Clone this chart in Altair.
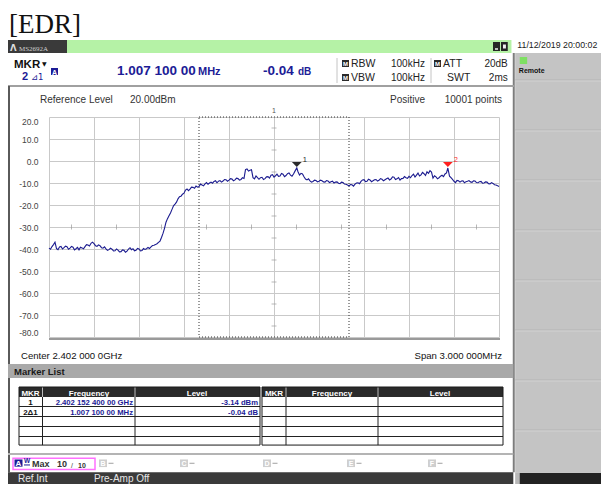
import altair as alt
import pandas as pd

SANS = "Liberation Sans"
SERIF = "Liberation Serif"

# ---------------- chart values ----------------
TRACE_MHZ = [
    -1.50, -1.49, -1.48, -1.47, -1.46, -1.45, -1.44, -1.43, -1.42, -1.41,
    -1.40, -1.39, -1.38, -1.37, -1.36, -1.35, -1.34, -1.33, -1.32, -1.31,
    -1.30, -1.29, -1.28, -1.27, -1.26, -1.25, -1.24, -1.23, -1.22, -1.21,
    -1.20, -1.19, -1.18, -1.17, -1.16, -1.15, -1.14, -1.13, -1.12, -1.11,
    -1.10, -1.09, -1.08, -1.07, -1.06, -1.05, -1.04, -1.03, -1.02, -1.01,
    -1.00, -0.99, -0.98, -0.97, -0.96, -0.95, -0.94, -0.93, -0.92, -0.91,
    -0.90, -0.89, -0.88, -0.87, -0.86, -0.85, -0.84, -0.83, -0.82, -0.81,
    -0.80, -0.79, -0.78, -0.77, -0.76, -0.75, -0.74, -0.73, -0.72, -0.71,
    -0.70, -0.69, -0.68, -0.67, -0.66, -0.65, -0.64, -0.63, -0.62, -0.61,
    -0.60, -0.59, -0.58, -0.57, -0.56, -0.55, -0.54, -0.53, -0.52, -0.51,
    -0.50, -0.49, -0.48, -0.47, -0.46, -0.45, -0.44, -0.43, -0.42, -0.41,
    -0.40, -0.39, -0.38, -0.37, -0.36, -0.35, -0.34, -0.33, -0.32, -0.31,
    -0.30, -0.29, -0.28, -0.27, -0.26, -0.25, -0.24, -0.23, -0.22, -0.21,
    -0.20, -0.19, -0.18, -0.17, -0.16, -0.15, -0.14, -0.13, -0.12, -0.11,
    -0.10, -0.09, -0.08, -0.07, -0.06, -0.05, -0.04, -0.03, -0.02, -0.01,
    0.00, 0.01, 0.02, 0.03, 0.04, 0.05, 0.06, 0.07, 0.08, 0.09,
    0.10, 0.11, 0.12, 0.13, 0.14, 0.152, 0.16, 0.17, 0.18, 0.19,
    0.20, 0.21, 0.22, 0.23, 0.24, 0.25, 0.26, 0.27, 0.28, 0.29,
    0.30, 0.31, 0.32, 0.33, 0.34, 0.35, 0.36, 0.37, 0.38, 0.39,
    0.40, 0.41, 0.42, 0.43, 0.44, 0.45, 0.46, 0.47, 0.48, 0.49,
    0.50, 0.51, 0.52, 0.53, 0.54, 0.55, 0.56, 0.57, 0.58, 0.59,
    0.60, 0.61, 0.62, 0.63, 0.64, 0.65, 0.66, 0.67, 0.68, 0.69,
    0.70, 0.71, 0.72, 0.73, 0.74, 0.75, 0.76, 0.77, 0.78, 0.79,
    0.80, 0.81, 0.82, 0.83, 0.84, 0.85, 0.86, 0.87, 0.88, 0.89,
    0.90, 0.91, 0.92, 0.93, 0.94, 0.95, 0.96, 0.97, 0.98, 0.99,
    1.00, 1.01, 1.02, 1.03, 1.04, 1.05, 1.06, 1.07, 1.08, 1.09,
    1.10, 1.11, 1.12, 1.13, 1.14, 1.15, 1.159, 1.17, 1.18, 1.19,
    1.20, 1.21, 1.22, 1.23, 1.24, 1.25, 1.26, 1.27, 1.28, 1.29,
    1.30, 1.31, 1.32, 1.33, 1.34, 1.35, 1.36, 1.37, 1.38, 1.39,
    1.40, 1.41, 1.42, 1.43, 1.44, 1.45, 1.46, 1.47, 1.48, 1.49,
    1.50,
]
TRACE_DBM = [
    -39.6, -40.1, -38.9, -38.0, -36.9, -39.8, -40.3, -39.1, -38.8, -40.0,
    -39.4, -38.7, -39.0, -40.1, -39.6, -38.8, -39.2, -40.4, -39.9, -39.3,
    -40.4, -39.2, -39.5, -39.9, -38.9, -38.0, -38.2, -38.6, -37.4, -36.9,
    -37.6, -38.5, -38.8, -38.1, -38.5, -39.4, -39.6, -39.0, -39.9, -40.6,
    -40.3, -39.6, -40.1, -40.9, -40.8, -40.0, -40.5, -41.3, -41.2, -40.4,
    -40.6, -41.5, -41.0, -40.0, -39.4, -40.3, -39.9, -40.8, -40.6, -39.7,
    -40.0, -40.9, -40.7, -39.8, -40.2, -39.9, -39.3, -39.8, -39.0, -38.4,
    -38.3, -38.0, -37.6, -37.0, -36.4, -34.8, -32.9, -30.6, -27.8, -26.2,
    -24.9, -23.6, -22.0, -20.4, -19.6, -18.7, -17.2, -16.2, -16.0, -15.1,
    -14.6, -13.2, -12.7, -13.5, -12.8, -11.9, -12.0, -12.4, -11.4, -11.9,
    -11.6, -10.5, -10.9, -11.3, -10.4, -9.8, -10.6, -10.0, -9.6, -10.1,
    -9.3, -9.0, -9.9, -9.2, -8.9, -9.6, -9.1, -8.4, -8.5, -9.2,
    -8.7, -8.0, -8.2, -9.0, -8.6, -7.8, -8.0, -8.7, -8.4, -7.6,
    -7.9, -3.9, -3.6, -4.6, -4.2, -4.0, -7.6, -8.1, -6.8, -7.6,
    -8.3, -7.6, -7.4, -8.4, -8.0, -7.2, -7.1, -7.8, -6.5, -6.2,
    -7.3, -6.7, -6.0, -7.0, -6.8, -5.7, -6.0, -7.1, -6.6, -5.8,
    -5.4, -6.4, -6.9, -5.9, -4.6, -3.14, -4.9, -6.4, -5.6, -5.9,
    -7.2, -8.2, -8.6, -8.1, -9.0, -9.6, -9.3, -8.7, -8.9, -9.5,
    -9.2, -8.7, -9.0, -9.5, -9.6, -8.9, -9.1, -9.8, -9.4, -9.2,
    -10.0, -9.6, -9.5, -10.1, -10.3, -9.6, -9.8, -10.5, -10.6, -10.9,
    -11.3, -10.7, -10.8, -11.4, -10.5, -10.0, -9.9, -10.3, -9.3, -8.6,
    -8.5, -9.4, -9.2, -8.3, -8.6, -9.4, -9.0, -8.5, -8.4, -9.1,
    -8.8, -8.0, -8.3, -9.0, -8.5, -8.1, -7.7, -8.6, -8.2, -7.2,
    -7.4, -8.4, -8.1, -7.5, -8.7, -8.0, -7.9, -7.1, -7.6, -7.9,
    -7.0, -7.6, -6.6, -6.0, -7.3, -6.4, -5.5, -6.8, -6.3, -5.2,
    -5.8, -6.6, -4.9, -5.6, -4.4, -5.0, -7.8, -6.7, -7.2, -8.1,
    -7.6, -6.9, -6.5, -7.1, -5.9, -5.4, -3.18, -6.9, -7.6, -8.4,
    -9.2, -9.8, -8.8, -9.0, -9.6, -9.1, -9.0, -9.9, -9.4, -9.2,
    -8.9, -9.5, -9.7, -9.0, -9.1, -9.8, -9.9, -9.4, -9.3, -10.1,
    -10.0, -9.5, -9.6, -10.3, -10.4, -9.8, -10.2, -10.8, -10.9, -11.2,
    -11.6,
]
MARKER_LABEL = ["1", "2"]
MARKER_MHZ = [0.152, 1.159]
MARKER_DBM = [-3.14, -3.18]
MARKER_COLOR = ["#2a2a2a", "#ff1f1f"]

GRID_MHZ = [-1.5, -1.2, -0.9, -0.6, -0.3, 0.0, 0.3, 0.6, 0.9, 1.2, 1.5]
GRID_DBM = [20, 10, 0, -10, -20, -30, -40, -50, -60, -70, -80]
ZONE_MHZ = [-0.5, 0.5]
SCALE_TICK_MHZ = [-1.35, -1.05, -0.75, -0.45, -0.15, 0.15, 0.45, 0.75, 1.05, 1.35]
SCALE_TICK_DBM = [15, 5, -5, -15, -25, -35, -45, -55, -65, -75]
CROSS_DBM = -30
CENTER_MHZ = 0.0

# ---------------- scales / axes ----------------
xscale = alt.Scale(domain=[GRID_MHZ[0], GRID_MHZ[-1]], nice=False, zero=False)
yscale = alt.Scale(domain=[GRID_DBM[-1], GRID_DBM[0]], nice=False, zero=False)
xaxis = alt.Axis(values=GRID_MHZ, grid=True, labels=False, ticks=False, domain=False,
                 title=None, gridColor="#c9c9c9", gridWidth=1)
yaxis = alt.Axis(values=GRID_DBM, grid=True, ticks=False, domain=False, title=None,
                 gridColor="#c9c9c9", gridWidth=1, labelFlush=True,
                 labelExpr="replace(format(datum.value, '.1f'), '\u2212', '-')",
                 labelFont=SANS, labelFontSize=8.5, labelColor="#444444", labelPadding=11)


def X(field, **kw):
    return alt.X(f"{field}:Q", scale=xscale, axis=xaxis, **kw)


def Y(field, **kw):
    return alt.Y(f"{field}:Q", scale=yscale, axis=yaxis, **kw)


trace_df = pd.DataFrame({"mhz": TRACE_MHZ, "dbm": TRACE_DBM})
marker_df = pd.DataFrame({"mhz": MARKER_MHZ, "dbm": MARKER_DBM,
                          "lab": MARKER_LABEL, "col": MARKER_COLOR})
zone_df = pd.DataFrame({"x1": [ZONE_MHZ[0]], "x2": [ZONE_MHZ[1]],
                        "y1": [GRID_DBM[0]], "y2": [GRID_DBM[-1]]})
htick_df = pd.DataFrame({"mhz": SCALE_TICK_MHZ, "dbm": [CROSS_DBM] * len(SCALE_TICK_MHZ)})
vtick_df = pd.DataFrame({"mhz": [CENTER_MHZ] * len(SCALE_TICK_DBM), "dbm": SCALE_TICK_DBM})
top_df = pd.DataFrame({"mhz": [CENTER_MHZ], "dbm": [GRID_DBM[0]], "lab": ["1"]})

# ---------------- decoration helpers (screen layout) ----------------
ONE = pd.DataFrame({"k": [0]})
OX, OY = 49, 117   # page position of the plot's top-left corner


def fx(x):
    # squeeze the right-hand side panel a little so it fits inside the page
    return x if x <= 505 else 505 + (x - 505) * 96 / 104


def fy(y):
    # squeeze the bottom status rows a little so they fit inside the page
    return y if y <= 440 else 440 + (y - 440) * 44 / 52


def T(sx, sy, s, size=10, color="#1a1a1a", weight="normal", align="left", font=SANS, **kw):
    return alt.Chart(ONE).mark_text(text=s, fontSize=size, color=color, fontWeight=weight,
                                    align=align, baseline="alphabetic", font=font, **kw
                                    ).encode(x=alt.value(fx(sx) - OX), y=alt.value(fy(sy) - OY))


def R(x1, y1, x2, y2, fill=None, stroke=None, sw=1):
    kw = {}
    if fill is not None:
        kw["fill"] = fill
    else:
        kw["fillOpacity"] = 0
    if stroke is not None:
        kw["stroke"] = stroke
        kw["strokeWidth"] = sw
    return alt.Chart(ONE).mark_rect(**kw).encode(
        x=alt.value(fx(x1) - OX), x2=alt.value(fx(x2) - OX),
        y=alt.value(fy(y1) - OY), y2=alt.value(fy(y2) - OY))


def L(x1, y1, x2, y2, color="#888888", sw=1):
    return alt.Chart(ONE).mark_rule(color=color, strokeWidth=sw).encode(
        x=alt.value(fx(x1) - OX), x2=alt.value(fx(x2) - OX),
        y=alt.value(fy(y1) - OY), y2=alt.value(fy(y2) - OY))


BLUE = "#1c1c96"
layers = []

# title bar
layers += [R(0, 40, 67, 53, fill="#3a3a3a"), R(67, 40, 512, 53, fill="#b5f2a6"),
           R(493, 42, 500, 51, fill="#262626"), L(495, 49, 498, 49, "#f0f0f0", 1.5),
           R(501, 42, 508, 51, fill="#262626"), R(503, 44.5, 506, 48.5, fill="#f0f0f0")]
# right panel
layers += [R(516, 53, 609, 478, fill="#c4c4c4")]
for by in [80, 130, 180, 230, 280, 330, 380, 430]:
    layers += [L(516, by, 609, by, "#b4b4b4", 1), L(516, by + 1, 609, by + 1, "#d2d2d2", 1)]
layers += [R(516, 478, 609, 492, fill="#b8b8b8"), R(521, 479, 609, 492, fill="#222222"),
           R(521, 57, 529, 64, fill="#7fe063"), L(514.5, 53, 514.5, 478, "#7d7d7d", 2)]
# frames / bars
layers += [L(0, 86, 515, 86, "#a0a0a0", 2), L(9, 86, 9, 478, "#5a5a5a", 2),
           R(8, 364, 514, 378, fill="#a9a9a9"), L(8, 456.5, 514, 456.5, "#b4b4b4", 2),
           R(8, 478, 514, 492, fill="#3a3a3a"),
           L(337, 58, 337, 83, "#c4c4c4", 1), L(431, 58, 431, 83, "#c4c4c4", 1),
           L(49, 339, 500, 339, "#9a9a9a", 2)]
# marker tables
for (tx1, c1, c2, tx2) in [(19, 42.5, 135, 260), (262, 286, 378, 503)]:
    layers += [R(tx1, 387, tx2, 397, fill="#2a2a2a")]
    for ry in [406.5, 416.5, 426.5, 436.5]:
        layers += [L(tx1, ry, tx2, ry, "#222222", 1)]
    layers += [L(c1, 397, c1, 446, "#222222", 1), L(c2, 397, c2, 446, "#222222", 1),
               L(c1, 387, c1, 397, "#bbbbbb", 1), L(c2, 387, c2, 397, "#bbbbbb", 1),
               R(tx1, 387, tx2, 446, stroke="#1a1a1a", sw=1)]

# ---------------- data layers ----------------
zone = alt.Chart(zone_df).mark_rect(fillOpacity=0, stroke="#333333", strokeWidth=1,
                                    strokeDash=[1, 2]).encode(
    x=X("x1"), x2="x2", y=Y("y1"), y2="y2")
hticks = alt.Chart(htick_df).mark_tick(orient="vertical", size=5, thickness=1,
                                       color="#9a9a9a").encode(x=X("mhz"), y=Y("dbm"))
vticks = alt.Chart(vtick_df).mark_tick(orient="horizontal", size=5, thickness=1,
                                       color="#9a9a9a").encode(x=X("mhz"), y=Y("dbm"))
toplab = alt.Chart(top_df).mark_text(fontSize=7, color="#555555", dy=-4, font=SANS,
                                     baseline="alphabetic").encode(
    x=X("mhz"), y=Y("dbm"), text="lab:N")
trace = alt.Chart(trace_df).mark_line(color="#1b1b8f", strokeWidth=1.1).encode(
    x=X("mhz"), y=Y("dbm"))
marks = alt.Chart(marker_df).mark_point(shape="M-1,-1L1,-1L0,0Z", size=95, filled=True,
                                        opacity=1).encode(
    x=X("mhz"), y=Y("dbm"), color=alt.Color("col:N", scale=None), yOffset=alt.value(-1))
marklab = alt.Chart(marker_df).mark_text(fontSize=7.5, dx=8, dy=-8, font=SANS).encode(
    x=X("mhz"), y=Y("dbm"), text="lab:N", color=alt.Color("col:N", scale=None))
layers += [zone, hticks, vticks, toplab, trace, marks, marklab]

# ---------------- texts ----------------
layers += [
    T(9, 33, "[EDR]", size=27, color="#111111", font=SERIF),
    T(10, 50.5, "Λ", size=8.5, color="#dddddd", weight="bold", font="DejaVu Sans"),
    T(19, 50.5, "MS2692A", size=7, color="#cfcfcf", font=SERIF),
    T(605, 48, "11/12/2019 20:00:02", size=8.8, color="#222222", align="right"),
    T(14, 68, "MKR", size=11.5, weight="bold", color="#111111"),
    T(42, 66, "▼", size=6, color="#111111", font="DejaVu Sans"),
    T(22, 79.5, "2", size=11, weight="bold", color=BLUE),
    T(31, 79.5, "⊿1", size=8.5, color=BLUE, font="DejaVu Sans"),
    R(51, 68, 58, 75, fill=BLUE),
    T(54.5, 74.5, "A", size=7, weight="bold", color="#ffffff", align="center"),
    T(117, 75, "1.007 100 00", size=13.5, weight="bold", color=BLUE),
    T(198, 75, "MHz", size=11, weight="bold", color=BLUE),
    T(263, 75, "-0.04", size=13.5, weight="bold", color=BLUE),
    T(298, 75, "dB", size=10, weight="bold", color=BLUE),
    R(342, 60, 349, 67, fill="#2a2a2a"), R(342, 74, 349, 81, fill="#2a2a2a"),
    R(434, 60, 441, 67, fill="#2a2a2a"),
    T(345.5, 66, "M", size=6, color="#ffffff", weight="bold", align="center"),
    T(345.5, 80, "M", size=6, color="#ffffff", weight="bold", align="center"),
    T(437.5, 66, "M", size=6, color="#ffffff", weight="bold", align="center"),
    T(351, 67, "RBW", size=10.5, color="#222222"),
    T(351, 81, "VBW", size=10.5, color="#222222"),
    T(391, 67, "100kHz", size=10, color="#222222"),
    T(391, 81, "100kHz", size=10, color="#222222"),
    T(443, 67, "ATT", size=10.5, color="#222222"),
    T(447, 81, "SWT", size=10.5, color="#222222"),
    T(508, 67, "20dB", size=10, color="#222222", align="right"),
    T(508, 81, "2ms", size=10, color="#222222", align="right"),
    T(40, 103, "Reference Level", size=10, color="#333333"),
    T(130, 103, "20.00dBm", size=10, color="#333333"),
    T(390, 103, "Positive", size=10, color="#333333"),
    T(502, 103, "10001 points", size=10, color="#333333", align="right"),
    T(21, 359, "Center 2.402 000 0GHz", size=9.6, color="#111111"),
    T(502, 359, "Span 3.000 000MHz", size=9.6, color="#111111", align="right"),
    T(14, 375, "Marker List", size=9.5, weight="bold", color="#1a1a1a"),
    T(520, 73, "Remote", size=7, weight="bold", color="#111111"),
]
for (mx, fx_, lx) in [(30.5, 89, 197), (274, 332, 440)]:
    layers += [T(mx, 395.5, "MKR", size=8, weight="bold", color="#ffffff", align="center"),
               T(fx_, 395.5, "Frequency", size=8, weight="bold", color="#ffffff", align="center"),
               T(lx, 395.5, "Level", size=8, weight="bold", color="#ffffff", align="center")]
layers += [
    T(30.5, 404.5, "1", size=8, weight="bold", color="#111111", align="center"),
    T(30.5, 414.5, "2Δ1", size=8, weight="bold", color="#111111", align="center"),
    T(133, 404.5, "2.402 152 400 00 GHz", size=7.7, weight="bold", color=BLUE, align="right"),
    T(133, 414.5, "1.007 100 00 MHz", size=7.7, weight="bold", color=BLUE, align="right"),
    T(258, 404.5, "-3.14 dBm", size=7.7, weight="bold", color=BLUE, align="right"),
    T(258, 414.5, "-0.04 dB", size=7.7, weight="bold", color=BLUE, align="right"),
]
# trace status row
layers += [
    R(13, 461.5, 95, 475, stroke="#ff70ff", sw=1.5),
    R(14.5, 463, 22.5, 471.5, fill=BLUE),
    T(18.5, 470.5, "A", size=8, weight="bold", color="#ffffff", align="center"),
    T(24, 467, "W", size=6.5, weight="bold", color=BLUE),
    L(24, 469.5, 30, 469.5, BLUE, 1),
    T(32, 472, "Max", size=9, weight="bold", color="#333333"),
    T(57, 472, "10", size=9, weight="bold", color="#333333"),
    T(71, 473, "/", size=7, color="#333333"),
    T(78, 473, "10", size=7, weight="bold", color="#333333"),
]
for (bx, letter) in [(99, "B"), (180, "C"), (263, "D"), (347, "E"), (428, "F")]:
    layers += [R(bx, 463, bx + 8, 472, fill="#cfcfcf"),
               T(bx + 4, 470.5, letter, size=7, weight="bold", color="#ffffff", align="center"),
               L(bx + 9.5, 467.5, bx + 14.5, 467.5, "#a0a0a0", 1)]
layers += [T(18, 489.5, "Ref.Int", size=10, color="#e6e6e6"),
           T(94, 489.5, "Pre-Amp Off", size=10, color="#e6e6e6")]

# page is 609x492 with an 8px margin, so the canvas is 593x476
chart = alt.layer(*layers).properties(
    width=450, height=220,
    padding={"left": 41, "top": 109, "right": 102, "bottom": 147},
    autosize=alt.AutoSizeParams(type="none"),
    background="white",
).configure_view(stroke=None)

chart.save("out.html", embed_options={"renderer": "svg", "actions": False})
